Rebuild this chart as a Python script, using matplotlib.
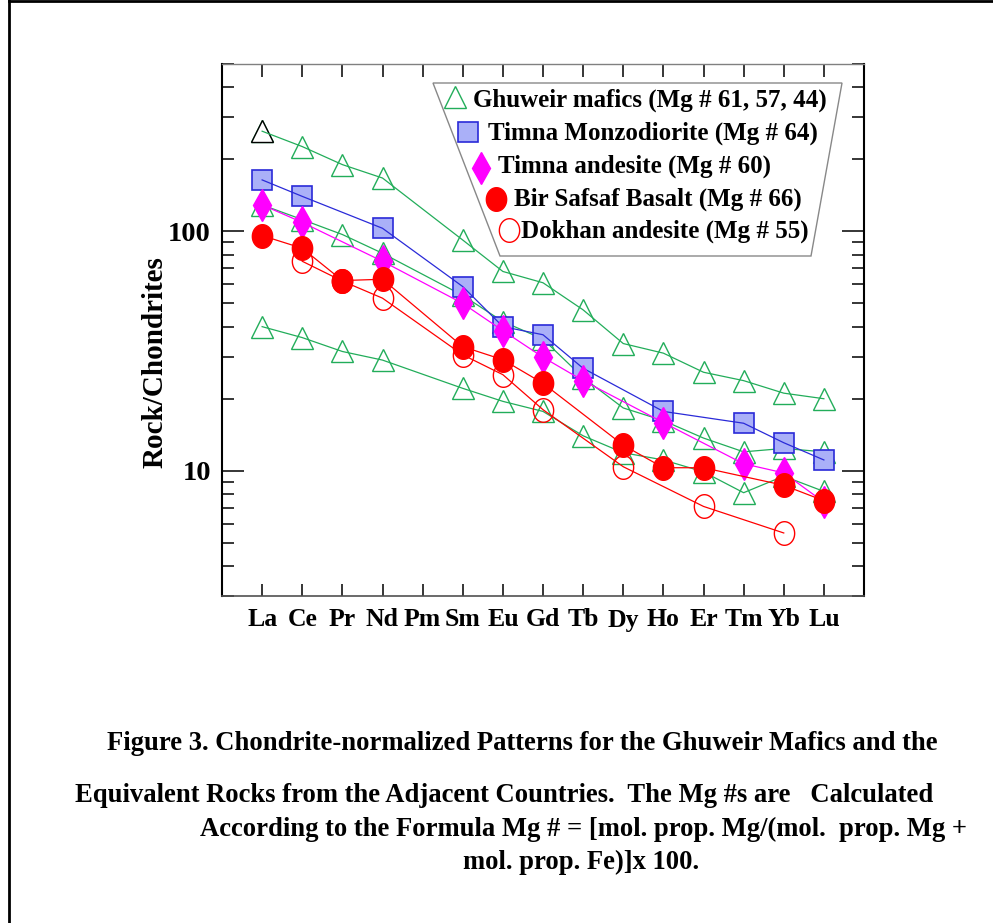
import numpy as np
import matplotlib
matplotlib.use("Agg")
import matplotlib.pyplot as plt
from matplotlib.path import Path
from matplotlib.patches import Polygon
from matplotlib.lines import Line2D
from matplotlib.ticker import LogLocator, FixedLocator, NullFormatter, FixedFormatter

nan = np.nan
elements = ['La', 'Ce', 'Pr', 'Nd', 'Pm', 'Sm', 'Eu', 'Gd', 'Tb', 'Dy', 'Ho', 'Er', 'Tm', 'Yb', 'Lu']
ghuweir_1 = [262, 226, 190, 167, nan, 92, 68, 61, 47, 34, 31, 25.8, 23.8, 21.1, 20]
ghuweir_2 = [129, 112, 97, 81, nan, 54, 42, 35.5, 24.5, 18.3, 16.2, 13.7, 12.0, 12.4, 12.0]
ghuweir_3 = [40, 36, 31.5, 29, nan, 22.1, 19.5, 17.7, 14.0, 11.9, 11.1, 9.9, 8.1, 9.5, 8.2]
timna_monzodiorite = [164, 140, nan, 103, nan, 58.8, 40, 37, 26.8, nan, 17.7, nan, 15.8, 13.1, 11.1]
timna_andesite = [129, 109, nan, 75, nan, 50, 38.5, 29.8, 23.8, nan, 15.9, nan, 10.7, 9.8, 7.4]
bir_safsaf = [96, 85, 62.3, 63.1, nan, 33, 29.1, 23.2, nan, 12.8, 10.3, 10.3, nan, 8.7, 7.5]
dokhan = [nan, 75, 62, 52.6, nan, 30.5, 25.2, 18.0, nan, 10.4, nan, 7.1, nan, 5.5, nan]

legend_labels = ['Ghuweir mafics (Mg # 61, 57, 44)',
                 'Timna Monzodiorite (Mg # 64)',
                 'Timna andesite (Mg # 60)',
                 'Bir Safsaf Basalt (Mg # 66)',
                 'Dokhan andesite (Mg # 55)']

caption = ['Figure 3. Chondrite-normalized Patterns for the Ghuweir Mafics and the',
           'Equivalent Rocks from the Adjacent Countries.  The Mg #s are   Calculated',
           'According to the Formula Mg # = [mol. prop. Mg/(mol.  prop. Mg +',
           'mol. prop. Fe)]x 100.']

FONT = 'Liberation Serif'
W, H = 993, 923
fig = plt.figure(figsize=(W / 100, H / 100), dpi=100)

def fx(x):
    return x / W

def fy(y):
    return 1 - y / H

ax = fig.add_axes([fx(222), fy(596), fx(864) - fx(222), fy(64) - fy(596)])

GREEN = '#22ad5a'
BLUE = '#2a2ad8'
SQFACE = '#aab0f8'
MAG = '#ff00ff'
RED = '#ff0000'

t = np.linspace(0, 2 * np.pi, 60)
ellipse = Path(np.column_stack([0.86 * np.cos(t), np.sin(t)]), closed=True)

x = np.arange(1, len(elements) + 1)

def plot_series(vals, mk, ms, mfc, mec, lc, z, mew=1.0):
    v = np.array(vals, dtype=float)
    m = ~np.isnan(v)
    ax.plot(x[m], v[m], ls='none', marker=mk, ms=ms, mfc=mfc, mec=mec, mew=mew, zorder=z)
    ax.plot(x[m], v[m], ls='-', color=lc, lw=0.9, zorder=z + 0.5)

for g in (ghuweir_1, ghuweir_2, ghuweir_3):
    plot_series(g, '^', 16.5, 'none', GREEN, GREEN, 2)
# first point of the upper Ghuweir pattern drawn with black outline
ax.plot(x[:1], ghuweir_1[:1], ls='none', marker='^', ms=16.5, mfc='white', mec='black', mew=1.0, zorder=2.2)
plot_series(timna_monzodiorite, 's', 14.5, SQFACE, BLUE, BLUE, 3, mew=1.2)
plot_series(timna_andesite, 'd', 15.8, MAG, MAG, MAG, 4)
plot_series(dokhan, ellipse, 17, 'none', RED, RED, 5)
plot_series(bir_safsaf, ellipse, 17, RED, RED, RED, 6)

ax.set_yscale('log')
ax.set_ylim(3, 500)
ax.set_xlim(0, 16)
ax.xaxis.set_major_locator(FixedLocator(x))
ax.set_xticklabels(elements, fontfamily=FONT, fontweight='bold', fontsize=18.5)
ax.yaxis.set_major_locator(FixedLocator([10, 100]))
ax.yaxis.set_major_formatter(FixedFormatter(['10', '100']))
ax.yaxis.set_minor_locator(LogLocator(base=10, subs=np.arange(2, 10)))
ax.yaxis.set_minor_formatter(NullFormatter())
for lab in ax.get_yticklabels():
    lab.set_fontfamily(FONT)
    lab.set_fontweight('bold')
    lab.set_fontsize(20.5)

ax.tick_params(axis='x', which='major', direction='in', length=9, width=1.1,
               top=True, bottom=True, pad=9)
ax.tick_params(axis='y', which='major', direction='in', length=16, width=1.1,
               left=True, right=True, pad=8)
ax.tick_params(axis='y', which='minor', direction='in', length=8.3, width=1.1,
               left=True, right=True)

ax.spines['left'].set_color('black')
ax.spines['left'].set_linewidth(1.5)
ax.spines['right'].set_color('black')
ax.spines['right'].set_linewidth(1.5)
ax.spines['top'].set_color('#808080')
ax.spines['top'].set_linewidth(1.0)
ax.spines['bottom'].set_color('#505050')
ax.spines['bottom'].set_linewidth(1.2)

fig.text(fx(155), fy(362), 'Rock/Chondrites', rotation=90, ha='center', va='center',
         fontfamily=FONT, fontweight='bold', fontsize=21)

# legend (trapezoid box)
poly = Polygon([(fx(433), fy(83)), (fx(842), fy(83)), (fx(811), fy(256)), (fx(500), fy(256))],
               closed=True, transform=fig.transFigure, facecolor='white',
               edgecolor='#888888', lw=1.0, zorder=10)
fig.add_artist(poly)

leg_styles = [
    dict(marker='^', ms=16.5, mfc='none', mec=GREEN, mew=1.0),
    dict(marker='s', ms=14.5, mfc=SQFACE, mec=BLUE, mew=1.2),
    dict(marker='d', ms=15.8, mfc=MAG, mec=MAG, mew=1.0),
    dict(marker=ellipse, ms=17, mfc=RED, mec=RED, mew=1.0),
    dict(marker=ellipse, ms=17, mfc='none', mec=RED, mew=1.0),
]
mk_pos = [(455, 97), (468, 132), (481, 168), (496, 199), (509, 230)]
tx_pos = [(473, 100), (488, 133), (498, 166), (514, 199), (521, 231)]
for st, (mx, my), (tx, ty), lab in zip(leg_styles, mk_pos, tx_pos, legend_labels):
    ln = Line2D([fx(mx)], [fy(my)], transform=fig.transFigure, ls='none', zorder=11, **st)
    fig.add_artist(ln)
    fig.text(fx(tx), fy(ty), lab, ha='left', va='center', fontfamily=FONT,
             fontweight='bold', fontsize=18, zorder=12)

# caption
cap_pos = [(107, 744), (75, 795), (200, 829), (463, 862)]
for (cx, cy), line in zip(cap_pos, caption):
    fig.text(fx(cx), fy(cy), line, ha='left', va='center', fontfamily=FONT,
             fontweight='bold', fontsize=19.2)

# page frame
fig.add_artist(Line2D([fx(9), fx(9)], [0, 1], transform=fig.transFigure, color='black', lw=2))
fig.add_artist(Line2D([fx(9), 1], [fy(1), fy(1)], transform=fig.transFigure, color='black', lw=2))

fig.savefig('out.png', dpi=100)
